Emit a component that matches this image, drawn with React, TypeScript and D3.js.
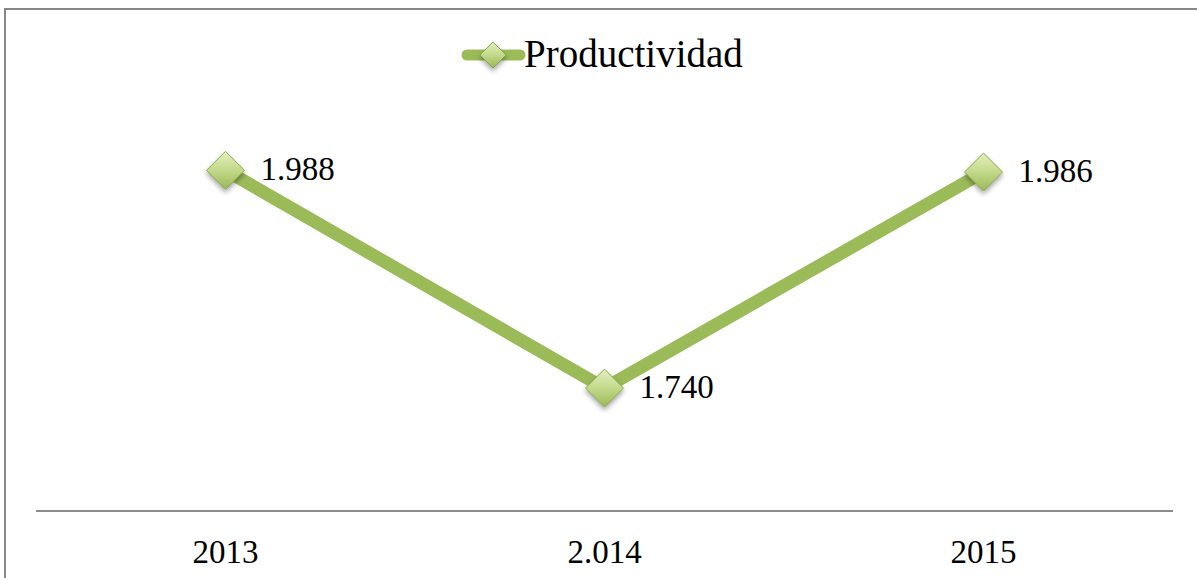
import React from 'react';
import * as d3 from 'd3';

const years = ['2013', '2.014', '2015'];
const productividad = [1.988, 1.74, 1.986];
const valueLabels = ['1.988', '1.740', '1.986'];
const seriesName = 'Productividad';

const W = 1197;
const H = 578;
const plot = { left: 36, right: 1173, top: 72, bottom: 511 };
const green = '#9bbb59';
const font = '"Liberation Serif", "Times New Roman", serif';

const diamond = (cx: number, cy: number, r: number) =>
  `M${cx},${cy - r} L${cx + r},${cy} L${cx},${cy + r} L${cx - r},${cy} Z`;

const App = () => {
  const x = d3.scaleBand().domain(years).range([plot.left, plot.right]);
  const y = d3.scaleLinear().domain([1.6, 2.1]).range([plot.bottom, plot.top]);
  const cx = (d: string) => (x(d) ?? 0) + x.bandwidth() / 2;

  const line = d3
    .line<number>()
    .x((d, i) => cx(years[i]))
    .y((d) => y(d));

  return (
    <svg
      width={W}
      height={H}
      style={{ position: 'absolute', left: 0, top: 0 }}
      fontFamily={font}
    >
      <defs>
        <linearGradient id="mk" x1="0" y1="0" x2="0" y2="1">
          <stop offset="0" stopColor="#e4efc0" />
          <stop offset="0.5" stopColor="#c3d98a" />
          <stop offset="1" stopColor="#9ab856" />
        </linearGradient>
        <filter id="sh" x="-50%" y="-50%" width="200%" height="200%">
          <feDropShadow dx="0" dy="3" stdDeviation="2.5" floodColor="#000" floodOpacity="0.35" />
        </filter>
      </defs>
      <rect x={0} y={0} width={W} height={H} fill="#fff" />
      <rect x={5} y={9} width={W + 10} height={H + 10} fill="none" stroke="#878787" strokeWidth={2} />

      {/* legend */}
      <line x1={467} x2={520} y1={55} y2={55} stroke={green} strokeWidth={11} strokeLinecap="round" />
      <path d={diamond(493, 55, 13)} fill="url(#mk)" stroke="#8aa84c" strokeWidth={1} filter="url(#sh)" />
      <text x={524} y={67} fontSize={39} fill="#000">{seriesName}</text>

      {/* axis */}
      <line x1={plot.left} x2={plot.right} y1={plot.bottom} y2={plot.bottom} stroke="#8c8c8c" strokeWidth={2} />
      {years.map((d) => (
        <text key={d} x={cx(d)} y={563} fontSize={33} textAnchor="middle" fill="#000">{d}</text>
      ))}

      {/* series */}
      <path d={line(productividad) ?? ''} fill="none" stroke={green} strokeWidth={13} strokeLinejoin="miter" />
      {productividad.map((v, i) => (
        <path key={i} d={diamond(cx(years[i]), y(v), 19)} fill="url(#mk)" stroke="#8aa84c" strokeWidth={1} filter="url(#sh)" />
      ))}
      {productividad.map((v, i) => (
        <text key={i} x={cx(years[i]) + 35} y={y(v) + 10} fontSize={33} fill="#000">{valueLabels[i]}</text>
      ))}
    </svg>
  );
};

export default App;
